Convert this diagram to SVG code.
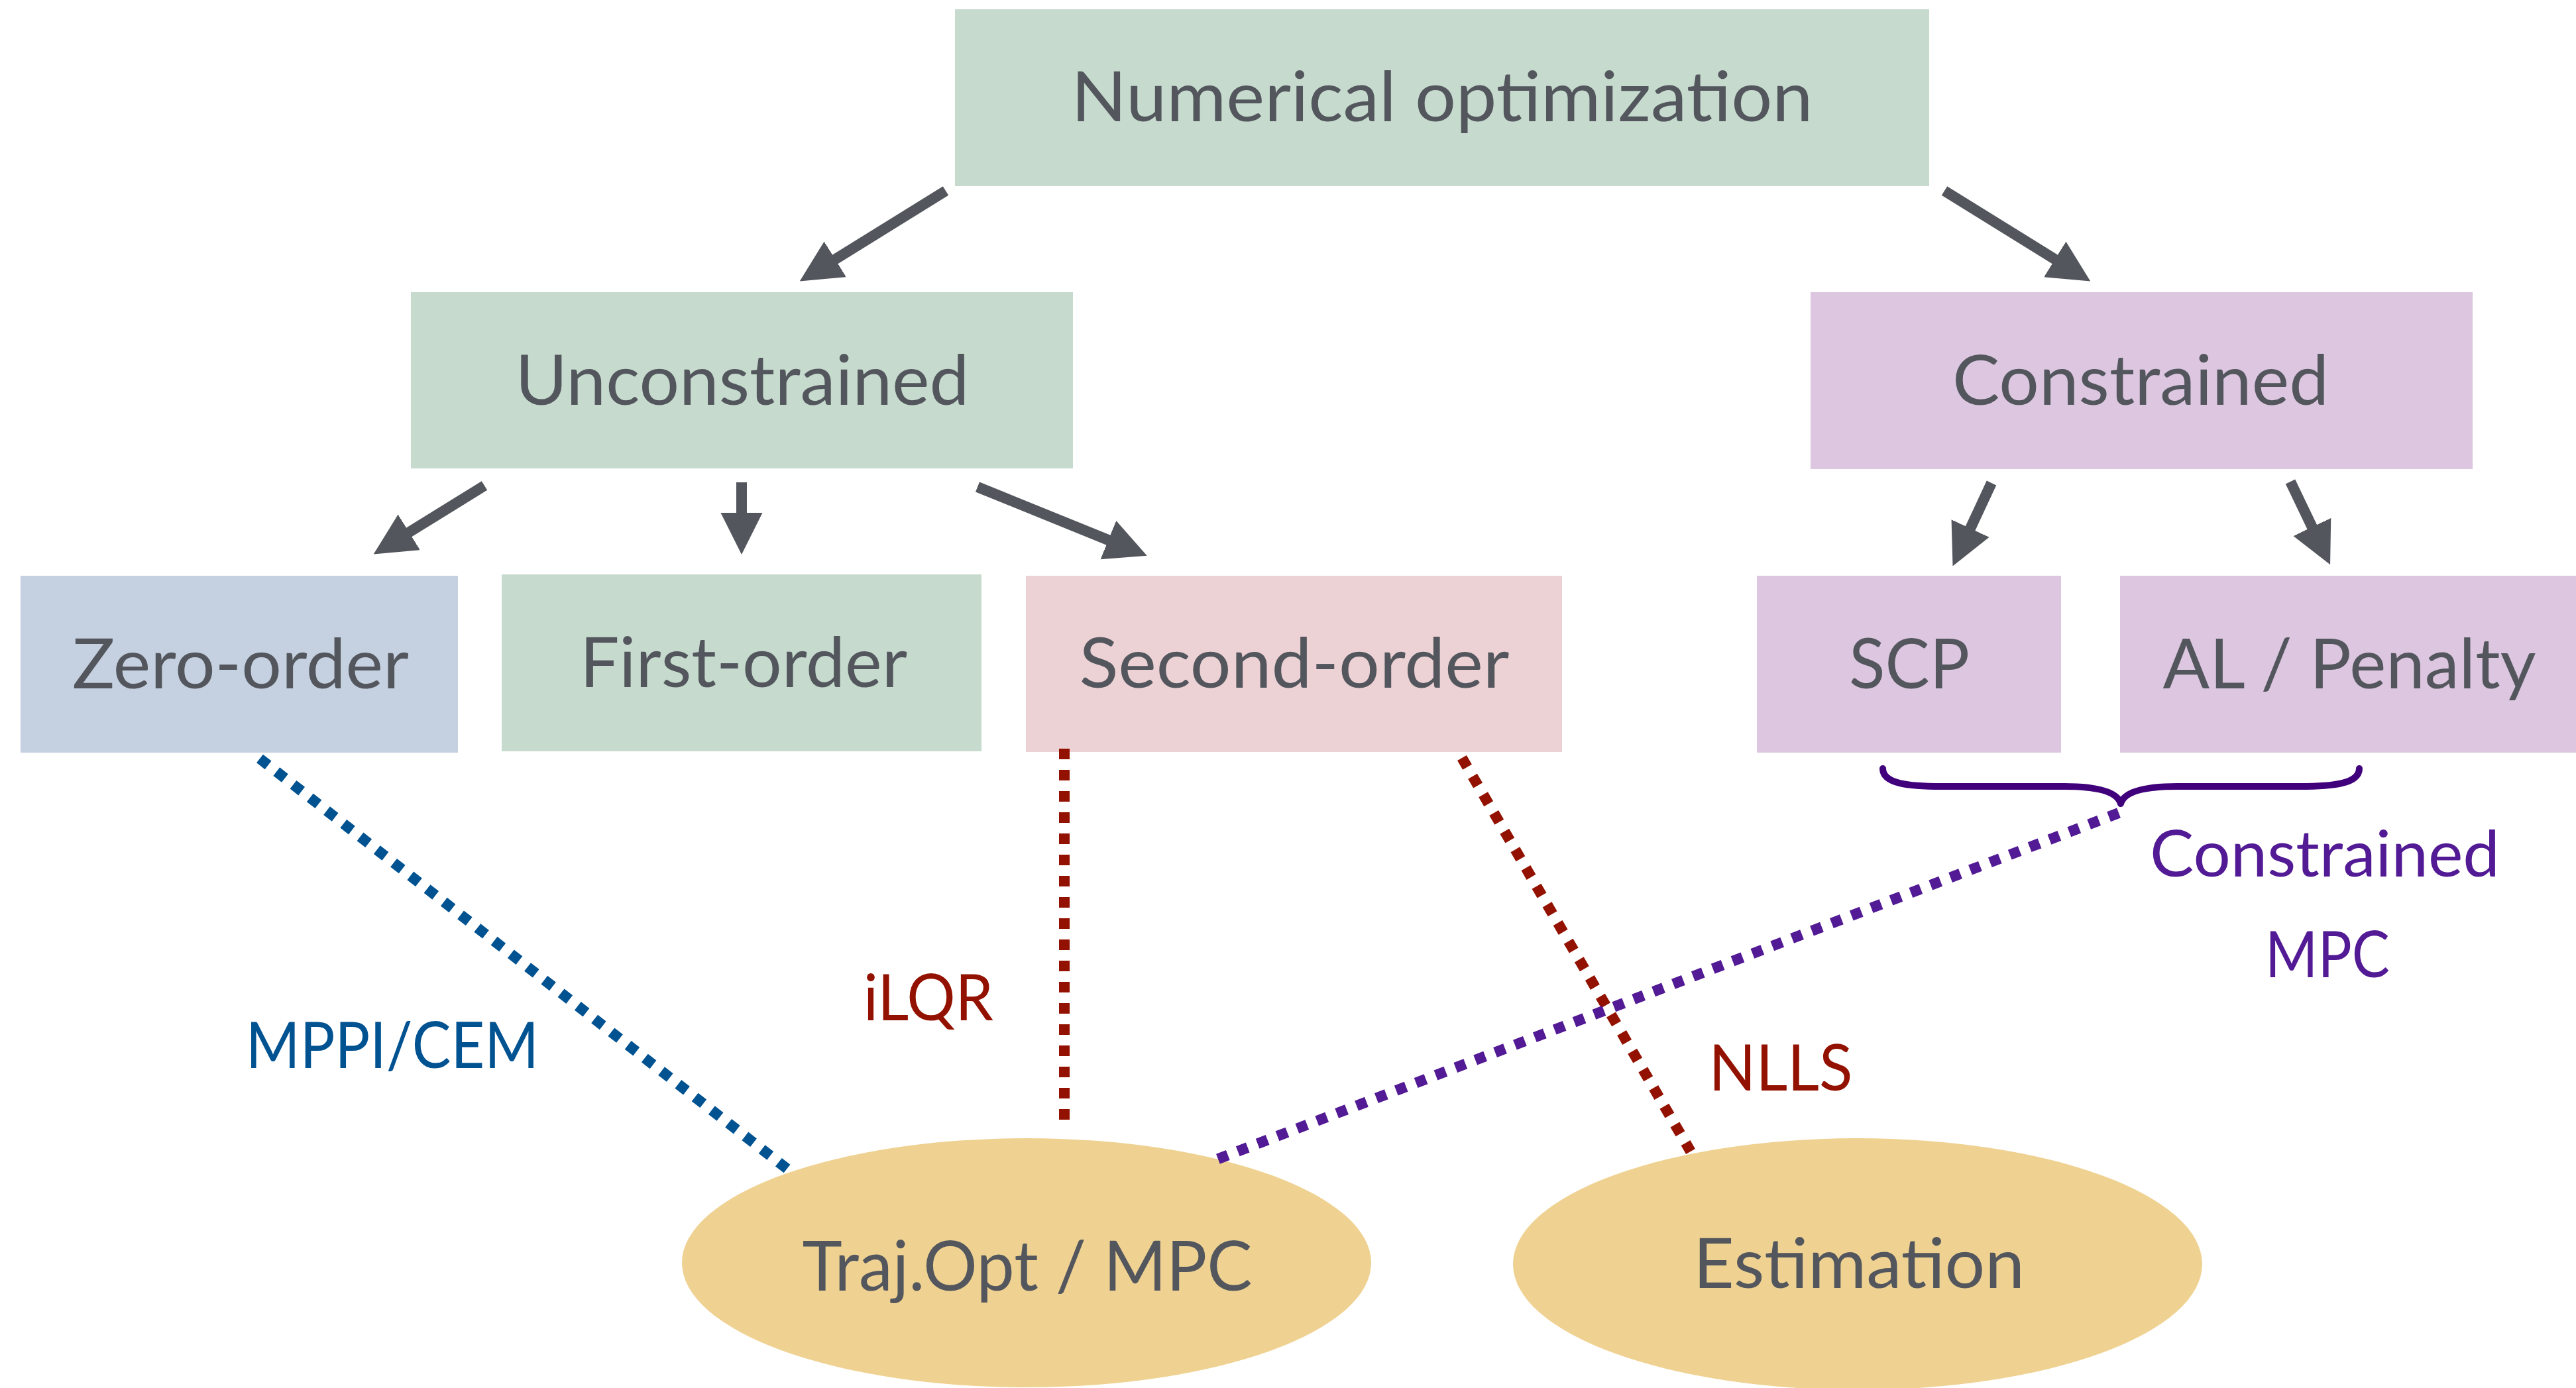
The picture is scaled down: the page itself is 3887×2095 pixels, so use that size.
<svg xmlns="http://www.w3.org/2000/svg" width="3887" height="2095" viewBox="0 0 3887 2095">
  <style>
    .box-green { fill: #C6DBCE; }
    .box-blue { fill: #C5D1E0; }
    .box-pink { fill: #EDD2D5; }
    .box-purple { fill: #DCC6E0; }
    .oval { fill: #EFD292; }
    .label { font-family: Lato, "Liberation Sans", sans-serif; font-size: 105px; fill: #53575D; text-anchor: middle; }
    .tag { font-family: Lato, "Liberation Sans", sans-serif; font-size: 97px; text-anchor: middle; }
    .arrow { stroke: #53575D; stroke-width: 16; fill: none; }
    .dots { stroke-width: 16; stroke-dasharray: 16 16; fill: none; }
    .blue { stroke: #005291; }
    .red { stroke: #931100; }
    .violet { stroke: #521A94; }
  </style>
  <defs>
    <marker id="head" markerUnits="userSpaceOnUse" markerWidth="64" markerHeight="64" viewBox="0 0 64 64" refX="5" refY="31.5" orient="auto">
      <path d="M0,0 L63,31.5 L0,63 Z" fill="#53575D"/>
    </marker>
  </defs>
  <rect width="3887" height="2095" fill="#FFFFFF"/>

  <g id="numerical-optimization">
    <rect class="box-green" x="1441" y="14" width="1470" height="267"/>
    <text class="label" x="2176" y="183" textLength="1119" lengthAdjust="spacingAndGlyphs">Numerical optimization</text>
  </g>
  <g id="unconstrained">
    <rect class="box-green" x="620" y="441" width="999" height="266"/>
    <text class="label" x="1120" y="611" textLength="685" lengthAdjust="spacingAndGlyphs">Unconstrained</text>
  </g>
  <g id="constrained">
    <rect class="box-purple" x="2732" y="441" width="999" height="267"/>
    <text class="label" x="3230" y="611" textLength="568" lengthAdjust="spacingAndGlyphs">Constrained</text>
  </g>
  <g id="zero-order">
    <rect class="box-blue" x="31" y="869" width="660" height="267"/>
    <text class="label" x="363" y="1039" textLength="508" lengthAdjust="spacingAndGlyphs">Zero-order</text>
  </g>
  <g id="first-order">
    <rect class="box-green" x="757" y="867" width="724" height="267"/>
    <text class="label" x="1122" y="1037" textLength="494" lengthAdjust="spacingAndGlyphs">First-order</text>
  </g>
  <g id="second-order">
    <rect class="box-pink" x="1548" y="869" width="809" height="266"/>
    <text class="label" x="1953" y="1038" textLength="649" lengthAdjust="spacingAndGlyphs">Second-order</text>
  </g>
  <g id="scp">
    <rect class="box-purple" x="2651" y="869" width="459" height="267"/>
    <text class="label" x="2881" y="1039" textLength="182" lengthAdjust="spacingAndGlyphs">SCP</text>
  </g>
  <g id="al-penalty">
    <rect class="box-purple" x="3199" y="869" width="700" height="267"/>
    <text class="label" x="3545" y="1039" textLength="563" lengthAdjust="spacingAndGlyphs">AL / Penalty</text>
  </g>
  <g id="traj-opt-mpc">
    <ellipse class="oval" cx="1549" cy="1906" rx="520" ry="188"/>
    <text class="label" x="1550" y="1948" textLength="679" lengthAdjust="spacingAndGlyphs">Traj.Opt / MPC</text>
  </g>
  <g id="estimation">
    <ellipse class="oval" cx="2803" cy="1908" rx="520" ry="190"/>
    <text class="label" x="2805" y="1944" textLength="500" lengthAdjust="spacingAndGlyphs">Estimation</text>
  </g>

  <g id="connectors">
    <!-- hierarchy arrows -->
    <line class="arrow" x1="1427" y1="288" x2="1256" y2="394" marker-end="url(#head)"/>
    <line class="arrow" x1="2934" y1="288" x2="3105" y2="394" marker-end="url(#head)"/>
    <line class="arrow" x1="731" y1="733" x2="613" y2="806" marker-end="url(#head)"/>
    <line class="arrow" x1="1119" y1="728" x2="1119" y2="779" marker-end="url(#head)"/>
    <line class="arrow" x1="1475" y1="735" x2="1677" y2="817" marker-end="url(#head)"/>
    <line class="arrow" x1="3005" y1="729" x2="2971" y2="802" marker-end="url(#head)"/>
    <line class="arrow" x1="3456" y1="727" x2="3491" y2="800" marker-end="url(#head)"/>

    <!-- brace grouping SCP and AL / Penalty -->
    <path d="M2841,1160 C2841,1183 2880,1187 2930,1187 L3115,1187 C3168,1187 3195,1196 3200,1213 C3205,1196 3232,1187 3285,1187 L3470,1187 C3520,1187 3560,1183 3560,1160" fill="none" stroke="#40007C" stroke-width="10" stroke-linecap="round" stroke-linejoin="round"/>

    <!-- application links -->
    <line class="dots blue" x1="392" y1="1145" x2="1190" y2="1766"/>
    <line class="dots red" x1="1606" y1="1130" x2="1606" y2="1693"/>
    <line class="dots red" x1="2206" y1="1144" x2="2551" y2="1738"/>
    <line class="dots violet" x1="3197" y1="1227" x2="1836" y2="1750"/>

    <text class="tag" x="592" y="1612" fill="#005291" textLength="442" lengthAdjust="spacingAndGlyphs">MPPI/CEM</text>
    <text class="tag" x="1401" y="1540" fill="#931100" textLength="196" lengthAdjust="spacingAndGlyphs">iLQR</text>
    <text class="tag" x="2687" y="1646" fill="#931100" textLength="217" lengthAdjust="spacingAndGlyphs">NLLS</text>
    <text class="tag" x="3508" y="1323" fill="#521A94" textLength="528" lengthAdjust="spacingAndGlyphs">Constrained</text>
    <text class="tag" x="3512" y="1475" fill="#521A94" textLength="188" lengthAdjust="spacingAndGlyphs">MPC</text>
  </g>
</svg>
